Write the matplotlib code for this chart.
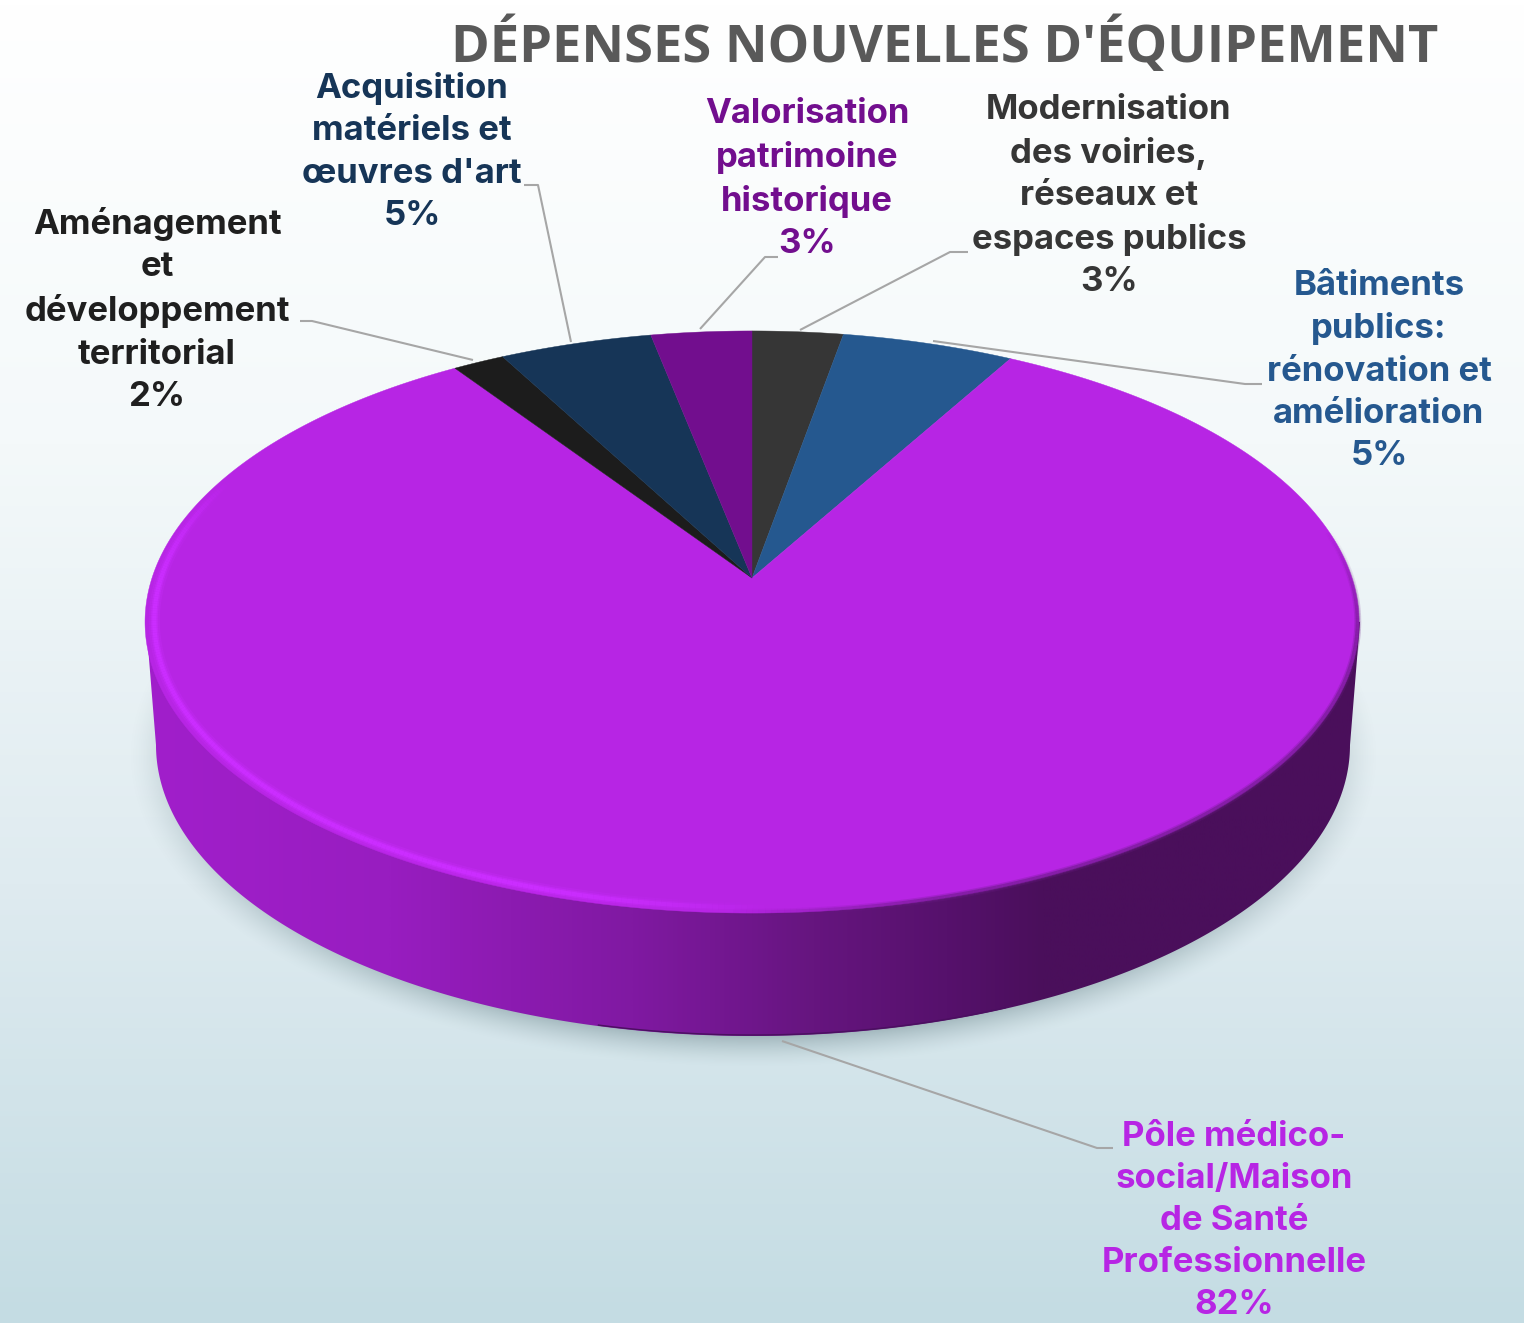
import numpy as np
import matplotlib
matplotlib.use('Agg')
import matplotlib.pyplot as plt
from matplotlib.colors import LinearSegmentedColormap
from matplotlib.patches import Polygon
from matplotlib.collections import LineCollection

# Data, clockwise from 12 o'clock
categories = ["Modernisation\ndes voiries,\nréseaux et\nespaces publics",
              "Bâtiments\npublics:\nrénovation et\namélioration",
              "Pôle médico-\nsocial/Maison\nde Santé\nProfessionnelle",
              "Aménagement\net\ndéveloppement\nterritorial",
              "Acquisition\nmatériels et\nœuvres d'art",
              "Valorisation\npatrimoine\nhistorique"]
values = [2.8, 5.3, 82.4, 1.6, 4.7, 3.1]
colors = ['#363636', '#25588f', '#b725e4', '#1c1c1c', '#163557', '#720e8e']
text_colors = ['#363636', '#25588f', '#b725e4', '#1f1f1f', '#163557', '#720e8e']
title = "DÉPENSES NOUVELLES D'ÉQUIPEMENT"

W, H = 1524, 1323
fig = plt.figure(figsize=(W / 100, H / 100), dpi=100)
ax = fig.add_axes([0, 0, 1, 1])
ax.set_xlim(0, W)
ax.set_ylim(H, 0)
ax.axis('off')

# background gradient
bg = LinearSegmentedColormap.from_list('bg', ['#ffffff', '#f4f9fa', '#dfebf0', '#c4dce3'])
ax.imshow(np.linspace(0, 1, 256).reshape(-1, 1), cmap=bg, extent=(0, W, H, 0), aspect='auto', zorder=0)

# pie geometry: disc seen in perspective
cx, cy = 752, 578
Rx, Ry, k = 600, 284.4, 0.1512
low_cx, low_cy, low_rx, low_ry = 753, 745, 597, 291


def project(t, r=1.0):
    # t = clockwise angle from top in radians
    u, v = r * np.sin(t), r * np.cos(t)
    d = 1 + k * v
    return cx + Rx * u / d, cy - Ry * v / d


# soft shadow under the pie
yy, xx = np.mgrid[0:H, 0:W]
dist = np.hypot((xx - 753) / 625, (yy - 755) / 312)
alpha = np.clip((1.0 - dist) / 0.1, 0, 1) ** 1.5 * 0.55
alpha[yy < 640] = 0
shadow = np.zeros((H, W, 4))
shadow[..., :3] = np.array([0.48, 0.58, 0.60])
shadow[..., 3] = alpha
ax.imshow(shadow, extent=(0, W, H, 0), aspect='auto', zorder=1)

# side of the pie
side = LinearSegmentedColormap.from_list('side', [(0, '#a11fcb'), (0.2, '#981dc0'), (0.4, '#8019a2'),
                                                  (0.55, '#66157f'), (0.66, '#56116c'), (0.74, '#4a0f5b'),
                                                  (1, '#4a0f5b')])
a = np.linspace(np.pi, 0, 300)
xs = np.r_[146, low_cx + low_rx * np.cos(a), 1360]
ys = np.r_[622, low_cy + low_ry * np.sin(a), 622]
side_patch = Polygon(np.c_[xs, ys], closed=True, fc='none', ec='none', zorder=2)
ax.add_patch(side_patch)
im = ax.imshow(np.linspace(0, 1, 512).reshape(1, -1), cmap=side, extent=(146, 1360, 1040, 600), aspect='auto', zorder=2)
im.set_clip_path(side_patch)
a = np.radians(np.linspace(105, 65, 80))
ax.plot(low_cx + low_rx * np.cos(a), low_cy - 1 + low_ry * np.sin(a), color='#4b0f60', lw=1.0, zorder=3)

# top face, wedges from the values
fracs = np.array(values) / sum(values)
edges = np.r_[0, np.cumsum(fracs)] * 2 * np.pi
for i, col in enumerate(colors):
    t = np.linspace(edges[i], edges[i + 1], max(int(fracs[i] * 800), 8))
    px, py = project(t)
    ax.add_patch(Polygon(np.c_[np.r_[cx, px], np.r_[cy, py]], closed=True, fc=col, ec=col, lw=0.3, zorder=4))

# bevel: bright rim on the lower left, soft dark rim on the lower right
t = np.radians(np.linspace(178, 292, 240))
px, py = project(t, 0.985)
pts = np.c_[px, py].reshape(-1, 1, 2)
segs = np.concatenate([pts[:-1], pts[1:]], axis=1)
rgba = np.tile(matplotlib.colors.to_rgba('#cb2dff'), (len(segs), 1))
rgba[:, 3] = np.clip(np.minimum(np.linspace(0, 6, len(segs)), np.linspace(5, 0, len(segs))), 0, 1)
for lw, al in [(8, 0.25), (5, 0.5), (3, 1.0)]:
    c = rgba.copy()
    c[:, 3] *= al
    ax.add_collection(LineCollection(segs, colors=c, linewidths=lw, capstyle='butt', zorder=5))
t = np.radians(np.linspace(80, 182, 200))
px, py = project(t, 0.998)
pts = np.c_[px, py].reshape(-1, 1, 2)
segs = np.concatenate([pts[:-1], pts[1:]], axis=1)
rgba = np.tile(matplotlib.colors.to_rgba('#6a1a85'), (len(segs), 1))
rgba[:, 3] = np.clip(np.minimum(np.linspace(0, 5, len(segs)), np.linspace(6, 0, len(segs))), 0, 1)
for lw, al in [(5, 0.25), (3, 0.5)]:
    c = rgba.copy()
    c[:, 3] *= al
    ax.add_collection(LineCollection(segs, colors=c, linewidths=lw, capstyle='butt', zorder=5))

# leader lines, same order as categories
leaders = [([968, 950, 800], [252, 252, 330]),
           ([1262, 1245, 933], [384, 384, 341]),
           ([1113, 1097, 782], [1148, 1148, 1041]),
           ([300, 312, 473], [321, 321, 360]),
           ([524, 538, 571], [185, 185, 342]),
           ([778, 765, 700], [257, 257, 329])]
for lx, ly in leaders:
    ax.plot(lx, ly, color='#a6a6a6', lw=1.5, zorder=6, solid_capstyle='butt')

# labels
label_pos = [(1109, 196), (1379, 371), (1234, 1221), (157, 310), (412, 152), (807, 179)]
for name, val, col, (lx, ly) in zip(categories, values, text_colors, label_pos):
    ax.text(lx, ly, f"{name}\n{val:.0f}%", color=col, fontsize=25, fontweight='bold', family='Inter',
            ha='center', va='center', linespacing=1.41, zorder=7)

ax.text(945, 46, title, color='#595959', fontsize=37.7, fontweight='bold', family='Open Sans',
        ha='center', va='center', zorder=7)

fig.savefig('out.png', dpi=100)
